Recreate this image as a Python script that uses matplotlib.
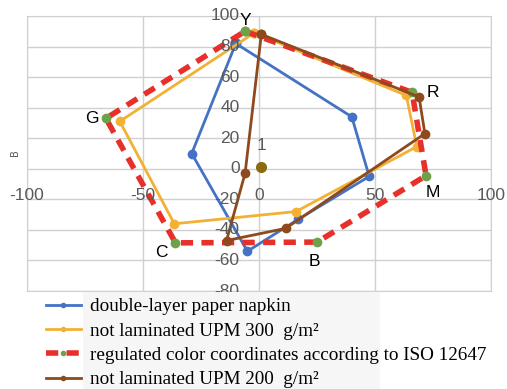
import matplotlib.pyplot as plt
from matplotlib.patches import Rectangle

# a*, b* values (polygons closed by repeating the first point)
napkin_a = [-10, 40, 47.5, 17, -5, -29, -10]
napkin_b = [82, 34, -5, -33, -54, 10, 82]

upm300_a = [-2, 63.5, 68, 16, -36.5, -60, -2]
upm300_b = [89, 48, 14.5, -28, -36, 31, 89]

iso_a = [-6, 66, 72, 25, -36, -66, -6]
iso_b = [90, 50, -4.5, -48, -48.5, 33, 90]
iso_names = ['Y', 'R', 'M', 'B', 'C', 'G']

upm200_a = [1, 69, 71.5, 11.5, -14, -6, 1]
upm200_b = [88, 47, 23, -39, -47, -3, 88]

origin_a = [1]
origin_b = [1]

xticks = [-100, -50, 0, 50, 100]
yticks = [-80, -60, -40, -20, 0, 20, 40, 60, 80, 100]

fig = plt.figure(figsize=(5.07, 3.89), dpi=100)
ax = fig.add_axes([27 / 507, 98 / 389, 464 / 507, 275 / 389])

blue = '#4472C4'
gold = '#F2B134'
red = '#E8302A'
green = '#6FA14A'
brown = '#8E4A1C'
olive = '#8C6A12'

ax.plot(napkin_a, napkin_b, color=blue, lw=2, marker='o', ms=6,
        label='double-layer paper napkin')
ax.plot(upm300_a, upm300_b, color=gold, lw=2, marker='o', ms=6,
        label='not laminated UPM 300  g/m²')
ax.plot(iso_a, iso_b, color=red, lw=4, ls=(0, (2.2, 1.5)), marker='o', ms=6,
        mfc=green, mec=green, label='regulated color coordinates according to ISO 12647')
ax.plot(upm200_a, upm200_b, color=brown, lw=2, marker='o', ms=6,
        label='not laminated UPM 200  g/m²')
ax.plot(origin_a, origin_b, color=olive, ls='none', marker='o', ms=7)

ax.set_xlim(-100, 100)
ax.set_ylim(-80, 100)
ax.set_xticks(xticks)
ax.set_yticks(yticks)
ax.tick_params(length=0, labelbottom=False, labelleft=False)
ax.grid(color='#D0D0D0', lw=1)
ax.set_axisbelow(True)
for s in ax.spines.values():
    s.set_color('#D0D0D0')

# axis labels sit on the crossing axes, Excel style
for t in xticks:
    ax.annotate(str(t), (t, 0), xytext=(0, -19), textcoords='offset points',
                ha='center', va='center', fontsize=12.5, color='#595959',
                family='Liberation Sans')
for t in yticks:
    ax.annotate(str(t), (0, t), xytext=(-14, 0), textcoords='offset points',
                ha='right', va='center', fontsize=12.5, color='#595959',
                family='Liberation Sans')

# corner names
offsets = {'Y': (0, 8), 'R': (15, 0), 'M': (5, -12), 'B': (-2, -14),
           'C': (-10, -7), 'G': (-10, 0)}
for n, a, b in zip(iso_names, iso_a, iso_b):
    ax.annotate(n, (a, b), xytext=offsets[n], textcoords='offset points',
                ha='center', va='center', fontsize=12.5, color='black',
                family='Liberation Sans')
ax.annotate('1', (origin_a[0], origin_b[0]), xytext=(0, 16), textcoords='offset points',
            ha='center', va='center', fontsize=12.5, color='#595959',
            family='Liberation Sans')

fig.text(15 / 507, 1 - 153 / 389, 'B', rotation=90, ha='center', va='center',
         fontsize=7, color='#595959')

# faint grey patch behind the legend text, as in the screenshot
fig.patches.append(Rectangle((83 / 507, 0), 297 / 507, 97 / 389, transform=fig.transFigure,
                             facecolor='#F6F6F6', edgecolor='none', zorder=0))

leg = fig.legend(loc='upper left', bbox_to_anchor=(46 / 507, 1 - 298 / 389),
                 prop={'family': 'Liberation Serif', 'size': 13.8},
                 frameon=False, handlelength=1.8, handletextpad=0.5,
                 labelspacing=0.36, borderpad=0, borderaxespad=0, markerscale=0.5)

fig.savefig('out.png', dpi=100)
